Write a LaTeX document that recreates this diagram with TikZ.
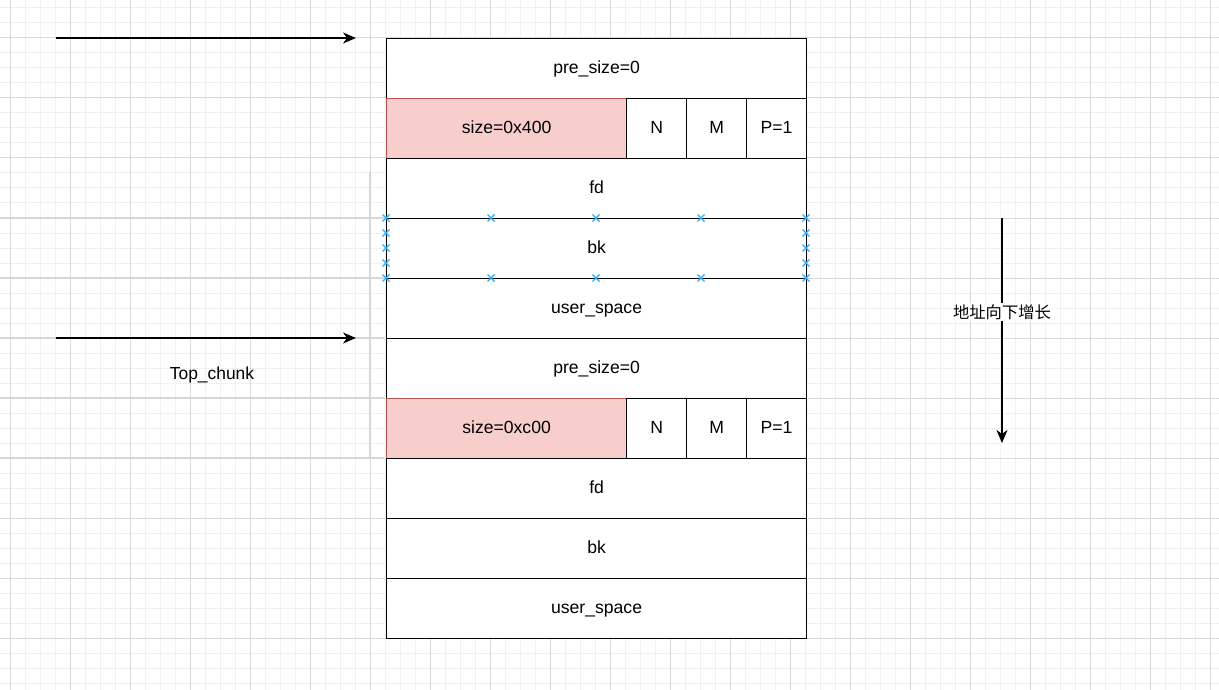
\documentclass[tikz,border=0pt]{standalone}
\usepackage{fontspec}
\setmainfont{Liberation Sans}
\newfontfamily\cjk{Noto Sans CJK SC}
\usetikzlibrary{arrows.meta}
\definecolor{gridminor}{RGB}{240,240,240}
\definecolor{gridmajor}{RGB}{218,218,218}
\definecolor{guide}{RGB}{214,214,214}
\definecolor{redfill}{RGB}{248,206,204}
\definecolor{redline}{RGB}{184,84,80}
\definecolor{handle}{RGB}{40,172,245}
\tikzset{
  cell/.style={draw=black, line width=1.2pt, fill=white, anchor=north west, inner sep=0pt,
    minimum height=60, text height=12.5pt, text depth=3.5pt, font=\fontsize{17.6}{20}\selectfont},
  wide/.style={cell, minimum width=420},
  flag/.style={cell, minimum width=60},
  sizecell/.style={cell, minimum width=240, fill=redfill, draw=redline},
  arr/.style={line width=1.5pt, -{Stealth[length=13pt,width=11pt,inset=4pt]}},
  handlex/.style={draw=handle, line width=1.3pt},
  plain/.style={font=\fontsize{17.4}{20}\selectfont},
}
\begin{document}
\begin{tikzpicture}[x=1pt,y=-1pt]
\useasboundingbox (0,0) rectangle (1219,690);
% grid
\foreach \i in {0,...,81} {\draw[gridminor, line width=1pt] (10.5+15*\i,0) -- (10.5+15*\i,690);}
\foreach \i in {0,...,46} {\draw[gridminor, line width=1pt] (0,8+15*\i) -- (1219,8+15*\i);}
\foreach \i in {0,...,20} {\draw[gridmajor, line width=1pt] (10.5+60*\i,0) -- (10.5+60*\i,690);}
\foreach \i in {0,...,11} {\draw[gridmajor, line width=1pt] (0,38+60*\i) -- (1219,38+60*\i);}
% guides
\foreach \y in {218,278,338,398,458} {\draw[guide, line width=1.6pt] (0,\y) -- (384,\y);}
\draw[guide, line width=1.6pt] (370,172) -- (370,458);
% first chunk
\node[wide] (ps1) at (386,38) {pre\_size=0};
\node[sizecell] (sz1) at (386,98) {size=0x400};
\node[flag] (n1) at (626,98) {N};
\node[flag] (m1) at (686,98) {M};
\node[flag] (p1) at (746,98) {P=1};
\node[wide] (fd1) at (386,158) {fd};
\node[wide] (bk1) at (386,218) {bk};
\node[wide] (us1) at (386,278) {user\_space};
% second chunk
\node[wide] (ps2) at (386,338) {pre\_size=0};
\node[sizecell] (sz2) at (386,398) {size=0xc00};
\node[flag] (n2) at (626,398) {N};
\node[flag] (m2) at (686,398) {M};
\node[flag] (p2) at (746,398) {P=1};
\node[wide] (fd2) at (386,458) {fd};
\node[wide] (bk2) at (386,518) {bk};
\node[wide] (us2) at (386,578) {user\_space};
% selection handles on bk1
\foreach \p in {(386,218),(386,233),(386,248),(386,263),(386,278),
                (806,218),(806,233),(806,248),(806,263),(806,278),
                (491,218),(596,218),(701,218),(491,278),(596,278),(701,278)} {
  \draw[handlex] \p ++(-3.5,-3.5) -- ++(7,7) \p ++(-3.5,3.5) -- ++(7,-7);
}
% arrows
\coordinate (a1s) at (56,38);
\coordinate (a1e) at (356,38);
\coordinate (a2s) at (56,338);
\coordinate (a2e) at (356,338);
\draw[arr] (a1s) -- (a1e);
\draw[arr] (a2s) -- (a2e);
\node[plain] (top) at (212,375) {Top\_chunk};
\coordinate (ds) at (1002,218);
\coordinate (de) at (1002,443);
\draw[arr] (ds) -- (de);
\node[fill=white, inner sep=1pt, font=\cjk\fontsize{16.3}{18}\selectfont] (addr) at (1002,312) {地址向下增长};
\end{tikzpicture}
\end{document}
